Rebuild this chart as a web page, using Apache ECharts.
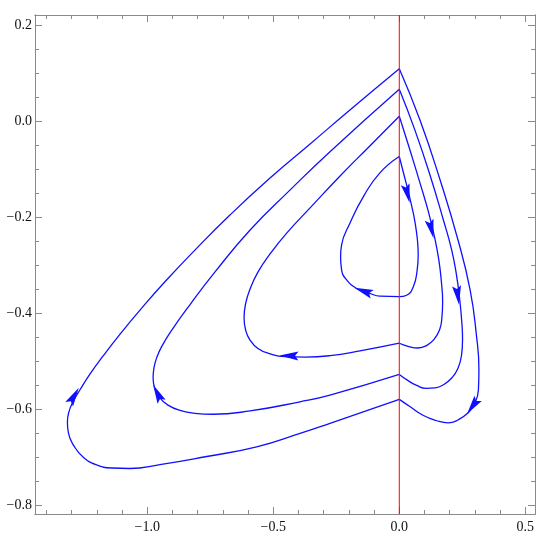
<!DOCTYPE html>
<html><head><meta charset="utf-8">
<script src="https://cdn.jsdelivr.net/npm/echarts@6/dist/echarts.min.js"></script>
<style>html,body{margin:0;padding:0;background:#fff}#c{width:550px;height:543px}</style>
</head><body><div id="c"></div>
<script>
// ---- axis ranges and ticks ----
const xRange = [-1.4456, 0.5385];
const yRange = [-0.8188, 0.2208];
const xMajorTicks = [-1.0, -0.5, 0.0, 0.5];
const xMinorTicks = [-1.4, -1.3, -1.2, -1.1, -0.9, -0.8, -0.7, -0.6, -0.4, -0.3, -0.2, -0.1, 0.1, 0.2, 0.3, 0.4];
const yMajorTicks = [-0.8, -0.6, -0.4, -0.2, 0.0, 0.2];
const yMinorTicks = [-0.75, -0.7, -0.65, -0.55, -0.5, -0.45, -0.35, -0.3, -0.25, -0.15, -0.1, -0.05, 0.05, 0.1, 0.15];

// ---- orbits (traversed clockwise), right part x>=0 and left part x<=0 ----
const loop1Right = [[0,-0.074],[0.019,-0.113],[0.036,-0.148],[0.050,-0.179],[0.062,-0.210],[0.072,-0.248],[0.075,-0.279],[0.071,-0.310],[0.056,-0.345],[0.029,-0.363],[0,-0.366]];
const loop1Left = [[0,-0.366],[-0.077,-0.365],[-0.117,-0.359],[-0.169,-0.349],[-0.209,-0.331],[-0.229,-0.310],[-0.233,-0.283],[-0.229,-0.258],[-0.196,-0.213],[-0.143,-0.158],[-0.077,-0.108],[0,-0.074]];

const loop2Right = [[0,0.010],[0.042,-0.060],[0.082,-0.129],[0.116,-0.190],[0.140,-0.242],[0.157,-0.290],[0.167,-0.335],[0.172,-0.377],[0.169,-0.410],[0.160,-0.435],[0.138,-0.455],[0.108,-0.468],[0.074,-0.473],[0.038,-0.470],[0,-0.463]];
const loop2Left = [[0,-0.463],[-0.156,-0.479],[-0.275,-0.489],[-0.375,-0.492],[-0.454,-0.491],[-0.513,-0.485],[-0.561,-0.474],[-0.593,-0.456],[-0.610,-0.435],[-0.616,-0.410],[-0.610,-0.381],[-0.592,-0.350],[-0.561,-0.315],[-0.513,-0.277],[-0.446,-0.233],[-0.354,-0.181],[-0.236,-0.115],[-0.117,-0.052],[0,0.010]];

const loop3Right = [[0,0.066],[0.062,-0.019],[0.122,-0.113],[0.177,-0.210],[0.208,-0.269],[0.227,-0.321],[0.240,-0.373],[0.248,-0.419],[0.251,-0.456],[0.247,-0.488],[0.233,-0.515],[0.209,-0.535],[0.177,-0.549],[0.142,-0.556],[0.106,-0.557],[0.069,-0.551],[0.035,-0.541],[0,-0.528]];
const loop3Left = [[0,-0.528],[-0.275,-0.571],[-0.394,-0.585],[-0.592,-0.604],[-0.739,-0.611],[-0.811,-0.609],[-0.870,-0.603],[-0.918,-0.592],[-0.952,-0.576],[-0.971,-0.556],[-0.977,-0.535],[-0.973,-0.513],[-0.962,-0.492],[-0.942,-0.469],[-0.902,-0.435],[-0.831,-0.383],[-0.732,-0.315],[-0.592,-0.227],[-0.434,-0.144],[-0.275,-0.064],[0,0.066]];

const loop4Right = [[0,0.109],[0.082,0.002],[0.162,-0.123],[0.233,-0.248],[0.281,-0.352],[0.306,-0.446],[0.316,-0.519],[0.314,-0.560],[0.300,-0.588],[0.273,-0.608],[0.233,-0.623],[0.194,-0.629],[0.146,-0.624],[0.094,-0.613],[0.042,-0.595],[0,-0.580]];
const loop4Left = [[0,-0.580],[-0.275,-0.630],[-0.394,-0.651],[-0.566,-0.679],[-0.764,-0.699],[-0.950,-0.716],[-1.069,-0.724],[-1.140,-0.723],[-1.204,-0.716],[-1.255,-0.700],[-1.291,-0.677],[-1.313,-0.650],[-1.317,-0.627],[-1.311,-0.606],[-1.295,-0.585],[-1.267,-0.560],[-1.227,-0.527],[-1.176,-0.490],[-1.108,-0.444],[-1.029,-0.394],[-0.930,-0.335],[-0.811,-0.269],[-0.672,-0.196],[-0.513,-0.119],[-0.354,-0.048],[-0.196,0.023],[0,0.109]];

// ---- arrowheads: position and the curve they sit on ----
const arrowPoints = [[0.032,-0.151],[0.127,-0.225],[0.232,-0.363],[0.291,-0.594],[-0.143,-0.354],[-0.438,-0.489],[-0.960,-0.567],[-1.291,-0.573]];
const arrowCurves = ['loop1Right','loop2Right','loop3Right','loop4Right','loop1Left','loop2Left','loop3Left','loop4Left'];

// ---- vertical reference line x = 0 ----
const zeroLineX = 0;

const curves = {loop1Right, loop1Left, loop2Right, loop2Left, loop3Right, loop3Left, loop4Right, loop4Left};

const BLUE = '#1010ff';
const FRAME = '#8a8a8a';
const FONT = 'Liberation Serif';
const fmt = v => Number(v).toFixed(1).replace('-', '\u2212');

function xAx(pos, major, withLabels) {
  return {
    type: 'value', position: pos, min: xRange[0], max: xRange[1],
    axisLine: {show: true, onZero: false, lineStyle: {color: FRAME, width: 1}},
    axisTick: {show: true, inside: true, length: major ? 7 : 4, customValues: major ? xMajorTicks : xMinorTicks, lineStyle: {color: FRAME, width: 1}},
    axisLabel: {show: withLabels, customValues: xMajorTicks, formatter: fmt, margin: 6, color: '#111', fontFamily: FONT, fontSize: 14},
    splitLine: {show: false}
  };
}
function yAx(pos, major, withLabels) {
  return {
    type: 'value', position: pos, min: yRange[0], max: yRange[1],
    axisLine: {show: true, onZero: false, lineStyle: {color: FRAME, width: 1}},
    axisTick: {show: true, inside: true, length: major ? 7 : 4, customValues: major ? yMajorTicks : yMinorTicks, lineStyle: {color: FRAME, width: 1}},
    axisLabel: {show: withLabels, customValues: yMajorTicks, formatter: fmt, margin: 3, color: '#111', fontFamily: FONT, fontSize: 14},
    splitLine: {show: false}
  };
}

const chart = echarts.init(document.getElementById('c'), null, {renderer: 'canvas'});

const series = Object.keys(curves).map(name => ({
  name, type: 'line', data: curves[name], smooth: 0.5, showSymbol: false, symbol: 'none',
  lineStyle: {color: BLUE, width: 1.3}, z: 2, silent: true
}));
series.push({
  name: 'xzero', type: 'line', data: [[zeroLineX, yRange[0]], [zeroLineX, yRange[1]]],
  showSymbol: false, symbol: 'none', silent: true, z: 5,
  lineStyle: {color: '#ff0000', width: 1}
});
series.push({
  name: 'arrows', type: 'scatter', data: arrowPoints,
  symbol: 'path://M0,0 L5,20 L0,16.5 L-5,20 Z', symbolSize: [9, 19],
  itemStyle: {color: BLUE, opacity: 1}, z: 4, silent: true
});

chart.setOption({
  animation: false,
  backgroundColor: '#fff',
  grid: {left: 35, right: 15, top: 15, bottom: 29, containLabel: false},
  xAxis: [xAx('bottom', true, true), xAx('bottom', false, false), xAx('top', true, false), xAx('top', false, false)],
  yAxis: [yAx('left', true, true), yAx('left', false, false), yAx('right', true, false), yAx('right', false, false)],
  series
});

// orient each arrowhead along its curve
function toPx(p) { return chart.convertToPixel({seriesIndex: 0}, p); }
const arrowData = arrowPoints.map((pt, k) => {
  const c = curves[arrowCurves[k]];
  const p = toPx(pt);
  let best = 0, bd = Infinity;
  for (let i = 0; i < c.length - 1; i++) {
    const a = toPx(c[i]), b = toPx(c[i + 1]);
    const vx = b[0] - a[0], vy = b[1] - a[1];
    const L = vx * vx + vy * vy || 1;
    let t = ((p[0] - a[0]) * vx + (p[1] - a[1]) * vy) / L;
    t = Math.max(0, Math.min(1, t));
    const dx = a[0] + t * vx - p[0], dy = a[1] + t * vy - p[1];
    const d = dx * dx + dy * dy;
    if (d < bd) { bd = d; best = i; }
  }
  const a = toPx(c[best]), b = toPx(c[best + 1]);
  const ang = Math.atan2(-(b[0] - a[0]), -(b[1] - a[1])) * 180 / Math.PI;
  return {value: pt, symbolRotate: ang};
});
chart.setOption({series: [{name: 'arrows', data: arrowData}]});
</script>
</body></html>
